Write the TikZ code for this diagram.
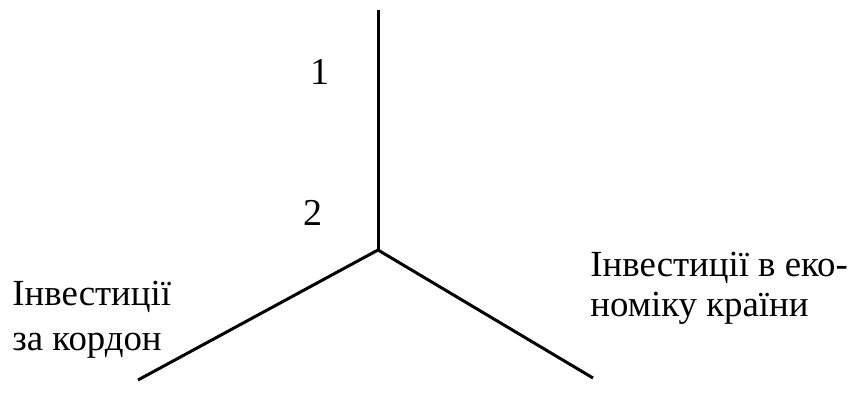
\documentclass[tikz,border=0pt]{standalone}
\usepackage{fontspec}
\setmainfont{Liberation Serif}
\usetikzlibrary{positioning}

\begin{document}
\begin{tikzpicture}[x=0.5pt, y=-0.5pt, every node/.style={inner sep=0pt, font=\fontsize{19}{22}\selectfont}]
        \useasboundingbox (0,0) rectangle (852,396);
        \coordinate (centre) at (378,250);
        \coordinate (top) at (378,10);
        \coordinate (left) at (138,380);
        \coordinate (right) at (593,378);

        \draw[line width=1.5pt] (centre) -- (top);
        \draw[line width=1.5pt] (centre) -- (left);
        \draw[line width=1.5pt] (centre) -- (right);

        \node (one) at (320,72) {1};
        \node (two) at (313,213) {2};

        \node (abroad) [anchor=west, align=left, font=\fontsize{18.4}{22.5}\selectfont] at (12,320) {Інвестиції\\за кордон};
        \node (home) [anchor=west, align=left, font=\fontsize{18.4}{20}\selectfont] at (590,288) {Інвестиції в еко-\\номіку країни};
    \end{tikzpicture}
\end{document}
